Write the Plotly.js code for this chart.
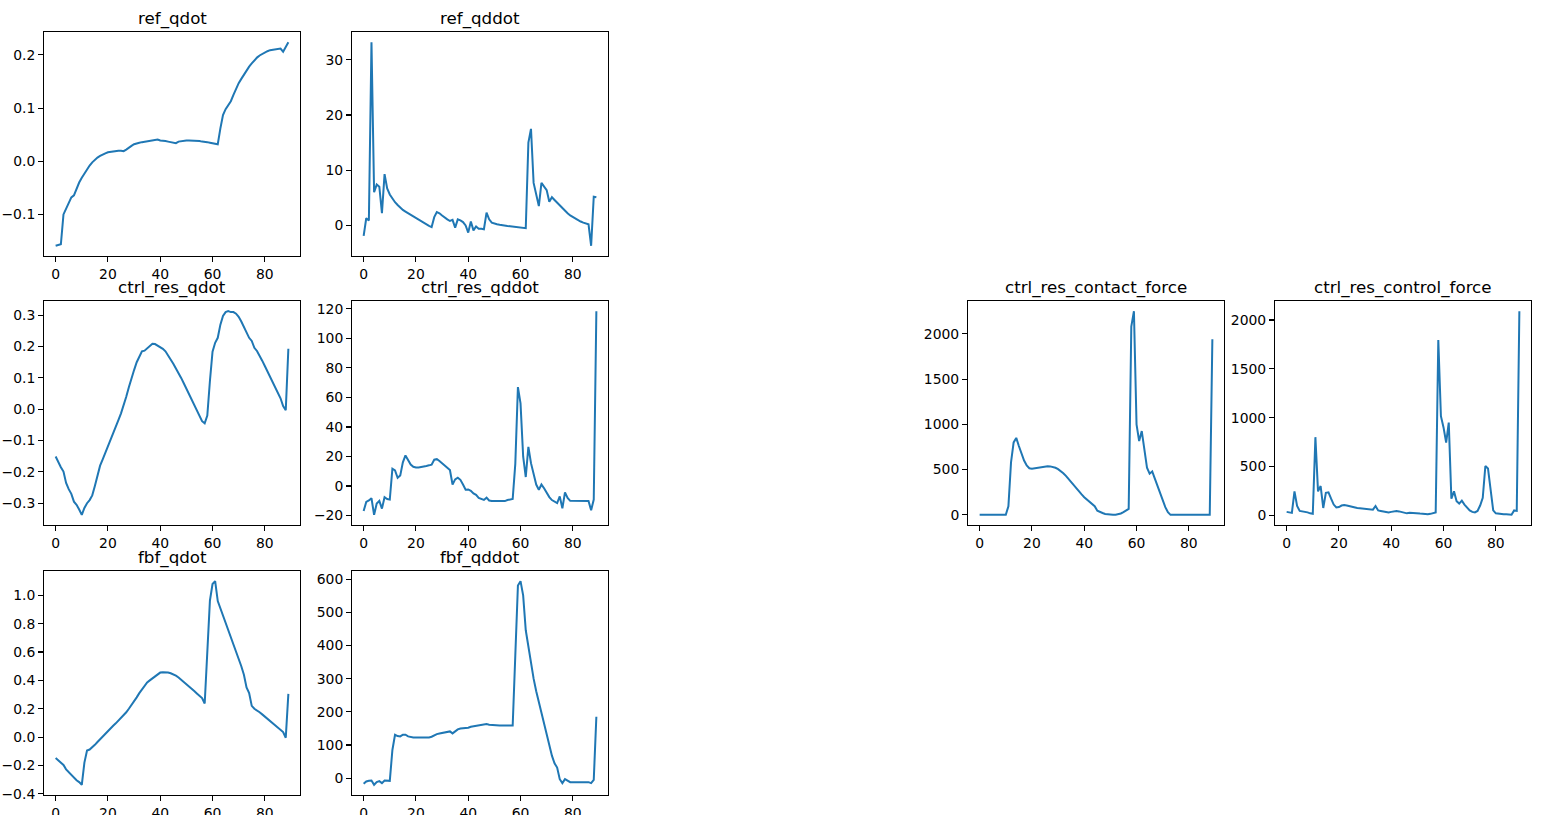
<!DOCTYPE html>
<html>
<head>
<meta charset="utf-8">
<script src="https://cdn.plot.ly/plotly-3.0.1.min.js"></script>
<style>
  html, body { margin: 0; padding: 0; background: white; }
  #graf { width: 1543px; height: 815px; }
</style>
</head>
<body>
<div id="graf"></div>
<script>
// time step index, 90 samples per series
let steps = [];
for (let i = 0; i < 90; i++) steps.push(i);

let ref_qdot = [-0.159,-0.158,-0.156,-0.100,-0.090,-0.079,-0.068,-0.064,-0.051,-0.040,
  -0.031,-0.023,-0.015,-0.008,-0.002,0.003,0.007,0.010,0.013,0.015,
  0.017,0.018,0.019,0.020,0.020,0.020,0.019,0.022,0.026,0.029,
  0.032,0.034,0.035,0.036,0.037,0.038,0.038,0.040,0.041,0.041,
  0.039,0.039,0.038,0.037,0.036,0.035,0.034,0.037,0.038,0.039,
  0.039,0.039,0.039,0.039,0.038,0.038,0.037,0.037,0.036,0.035,
  0.034,0.033,0.032,0.062,0.087,0.098,0.106,0.113,0.125,0.137,
  0.147,0.155,0.163,0.171,0.178,0.184,0.190,0.195,0.199,0.202,
  0.205,0.207,0.209,0.210,0.211,0.212,0.212,0.206,0.215,0.224];

let ref_qddot = [-1.9,1.3,0.9,33.2,6.0,7.4,7.0,2.2,9.3,6.7,
  5.6,4.8,4.2,3.7,3.2,2.8,2.5,2.2,1.9,1.6,
  1.3,1.0,0.7,0.4,0.1,-0.1,-0.3,1.5,2.4,2.2,
  1.8,1.4,1.1,0.8,1.0,-0.4,1.1,0.9,0.6,0.0,
  -1.3,0.7,-0.9,-0.2,-0.6,-0.6,-0.7,2.3,1.1,0.5,
  0.3,0.2,0.1,0.0,-0.05,-0.1,-0.15,-0.2,-0.25,-0.3,
  -0.35,-0.4,-0.5,15.0,17.5,7.7,5.8,3.5,7.7,7.0,
  6.4,4.3,5.1,4.6,4.1,3.6,3.1,2.6,2.2,1.8,
  1.5,1.2,0.9,0.7,0.5,0.3,0.2,-3.7,5.2,5.1];

let ctrl_res_qdot = [-0.151,-0.170,-0.185,-0.199,-0.235,-0.255,-0.270,-0.295,-0.305,-0.320,
  -0.337,-0.315,-0.300,-0.290,-0.275,-0.245,-0.210,-0.180,-0.160,-0.140,
  -0.120,-0.100,-0.080,-0.058,-0.035,-0.013,0.010,0.040,0.070,0.100,
  0.125,0.150,0.170,0.185,0.187,0.195,0.203,0.209,0.208,0.203,
  0.199,0.193,0.185,0.173,0.160,0.145,0.130,0.117,0.100,0.083,
  0.065,0.047,0.030,0.012,-0.005,-0.022,-0.038,-0.045,-0.020,0.090,
  0.184,0.212,0.228,0.270,0.298,0.310,0.313,0.310,0.310,0.305,
  0.295,0.280,0.262,0.245,0.228,0.218,0.196,0.186,0.172,0.155,
  0.138,0.120,0.103,0.085,0.068,0.050,0.035,0.010,-0.003,0.193];

let ctrl_res_qddot = [-16.9,-10.8,-9.8,-8.3,-19.5,-11.9,-10.1,-15.3,-7.6,-8.8,
  -9.2,11.7,10.6,5.6,7.2,16.0,20.7,17.5,14.5,13.0,
  12.5,12.6,12.8,13.2,13.6,14.0,14.5,17.8,18.2,17.0,
  15.5,13.8,12.0,10.8,1.0,4.5,5.6,4.2,1.0,-2.5,
  -2.3,-3.2,-5.0,-6.0,-8.0,-8.6,-9.4,-7.9,-9.8,-10.2,
  -10.3,-10.3,-10.4,-10.5,-10.2,-9.5,-9.0,-8.7,15.0,67.0,
  56.0,20.0,6.1,26.5,15.5,7.0,1.0,-2.5,1.0,-1.5,
  -4.5,-7.5,-9.5,-10.5,-11.5,-7.0,-15.1,-4.3,-8.0,-10.0,
  -10.0,-9.8,-9.8,-9.9,-10.0,-10.0,-10.2,-16.4,-9.2,118.4];

let fbf_qdot = [-0.148,-0.163,-0.177,-0.197,-0.228,-0.248,-0.265,-0.285,-0.305,-0.318,
  -0.337,-0.180,-0.095,-0.088,-0.073,-0.055,-0.035,-0.015,0.005,0.025,
  0.045,0.063,0.080,0.097,0.115,0.133,0.152,0.175,0.200,0.225,
  0.250,0.280,0.310,0.335,0.360,0.385,0.400,0.415,0.430,0.445,
  0.455,0.457,0.457,0.455,0.450,0.443,0.433,0.420,0.405,0.390,
  0.375,0.360,0.343,0.325,0.308,0.290,0.275,0.237,0.600,0.963,
  1.080,1.100,0.960,0.910,0.860,0.810,0.760,0.710,0.650,0.600,
  0.550,0.500,0.440,0.350,0.310,0.220,0.200,0.190,0.175,0.160,
  0.145,0.130,0.115,0.100,0.085,0.070,0.055,0.035,-0.005,0.305];

let fbf_qddot = [-17,-10,-8,-7,-20,-12,-9,-15,-7,-8,
  -8,85,131,127,126,131,131,126,124,123,
  123,123,123,122,122,123,125,130,133,135,
  136,138,139,141,135,142,147,150,150,150,
  152,155,156,157,159,160,161,163,161,160,
  160,159,159,159,159,160,160,159,370,581,
  594,551,446,395,345,300,262,228,195,162,
  130,98,68,45,32,-3,-15,-3,-8,-12,
  -12,-12,-12,-12,-12,-12,-12,-15,-5,185];

let ctrl_res_contact_force = [0,0,0,0,0,0,0,0,0,0,
  0,95,580,800,850,760,680,600,545,515,
  510,515,522,528,532,535,537,535,530,520,
  505,485,460,430,395,360,320,285,255,225,
  195,170,145,125,95,45,30,20,10,5,
  2,2,2,5,15,30,45,65,2080,2250,
  1000,815,925,690,520,455,480,400,320,240,
  160,85,30,0,0,0,0,0,0,0,
  0,0,0,0,0,0,0,0,0,1940];

let ctrl_res_control_force = [35,30,25,245,95,45,40,40,30,20,
  15,800,245,300,75,230,235,170,110,80,
  85,100,105,100,92,85,78,75,72,70,
  70,68,63,58,95,50,45,40,35,30,
  35,40,45,40,35,25,20,25,25,20,
  18,18,17,12,10,15,25,30,1795,1015,
  900,745,950,170,245,145,120,150,110,75,
  50,35,30,45,100,180,505,480,250,50,
  20,15,12,10,10,10,5,50,45,2090];

// subplot grid in pixels (matplotlib 3 x 5 layout)
let W = 1543, H = 815;
let colLeft = [44, 352, 660, 968, 1275];
let rowTop = [32, 301, 571];
let boxW = 256, boxH = 224;

let panels = [
  {name: 'ref_qdot', y: ref_qdot, row: 0, col: 0, dtick: 0.1, fmt: '.1f'},
  {name: 'ref_qddot', y: ref_qddot, row: 0, col: 1, dtick: 10, fmt: 'd'},
  {name: 'ctrl_res_qdot', y: ctrl_res_qdot, row: 1, col: 0, dtick: 0.1, fmt: '.1f'},
  {name: 'ctrl_res_qddot', y: ctrl_res_qddot, row: 1, col: 1, dtick: 20, fmt: 'd'},
  {name: 'ctrl_res_contact_force', y: ctrl_res_contact_force, row: 1, col: 3, dtick: 500, fmt: 'd'},
  {name: 'ctrl_res_control_force', y: ctrl_res_control_force, row: 1, col: 4, dtick: 500, fmt: 'd'},
  {name: 'fbf_qdot', y: fbf_qdot, row: 2, col: 0, dtick: 0.2, fmt: '.1f'},
  {name: 'fbf_qddot', y: fbf_qddot, row: 2, col: 1, dtick: 100, fmt: 'd'}
];

let font = 'DejaVu Sans, sans-serif';
let axisStyle = {
    showgrid: false,
    zeroline: false,
    showline: true,
    mirror: true,
    linecolor: 'black',
    linewidth: 1.1,
    ticks: 'outside',
    ticklen: 4.9,
    tickwidth: 1.1,
    tickcolor: 'black',
    tickfont: {family: font, size: 13.9, color: 'black'}
};

let data = [];
let layout = {
    width: W,
    height: H,
    margin: {l: 0, r: 0, t: 0, b: 0},
    paper_bgcolor: 'white',
    plot_bgcolor: 'white',
    showlegend: false,
    annotations: []
};

panels.forEach((p, i) => {
    let n = i === 0 ? '' : String(i + 1);
    let x0 = colLeft[p.col] / W, x1 = (colLeft[p.col] + boxW) / W;
    let y1 = 1 - rowTop[p.row] / H, y0 = 1 - (rowTop[p.row] + boxH) / H;

    let lo = Math.min(...p.y), hi = Math.max(...p.y);
    let pad = (hi - lo) * 0.05;

    data.push({
        x: steps,
        y: p.y,
        type: 'scatter',
        mode: 'lines',
        line: {color: '#1f77b4', width: 2},
        xaxis: 'x' + n,
        yaxis: 'y' + n,
        hoverinfo: 'skip'
    });

    layout['xaxis' + n] = Object.assign({}, axisStyle, {
        domain: [x0, x1],
        anchor: 'y' + n,
        range: [-4.45, 93.45],
        tick0: 0,
        dtick: 20
    });
    layout['yaxis' + n] = Object.assign({}, axisStyle, {
        domain: [y0, y1],
        anchor: 'x' + n,
        range: [lo - pad, hi + pad],
        tick0: 0,
        dtick: p.dtick,
        tickformat: p.fmt
    });

    layout.annotations.push({
        text: p.name,
        xref: 'paper', yref: 'paper',
        x: (x0 + x1) / 2, y: y1,
        xanchor: 'center', yanchor: 'bottom',
        yshift: 1,
        showarrow: false,
        font: {family: font, size: 16.7, color: 'black'}
    });
});

Plotly.newPlot('graf', data, layout, {staticPlot: true});
</script>
</body>
</html>
